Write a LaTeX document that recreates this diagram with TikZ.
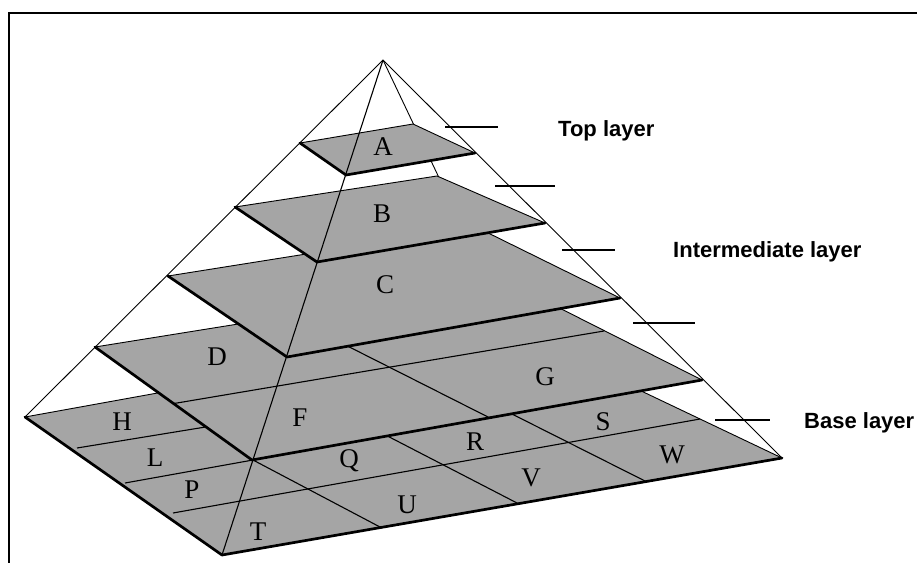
\documentclass[tikz,border=0pt]{standalone}
\usepackage{fontspec}
\setmainfont{Liberation Serif}
\newfontfamily\labelfont{Liberation Sans}
\definecolor{platefill}{RGB}{165,165,165}
\tikzset{
  plate/.style={fill=platefill, draw=black, line width=0.9pt, line join=round},
  frontedge/.style={draw=black, line width=2.7pt, line cap=round, line join=round},
  thinline/.style={draw=black, line width=0.9pt},
  gridline/.style={draw=black, line width=1.1pt},
  cell/.style={font=\fontsize{27}{27}\selectfont, inner sep=0pt, text=black},
  layername/.style={font=\labelfont\bfseries\fontsize{22}{22}\selectfont, anchor=base west, inner sep=0pt},
  tickline/.style={draw=black, line width=1.4pt},
  framebox/.style={draw=black, line width=2pt}
}
\begin{document}
\begin{tikzpicture}[x=1pt,y=-1pt]
\useasboundingbox (0,0) rectangle (917,562);
% frame
\coordinate (fBL) at (9,566);
\coordinate (fTL) at (9,13);
\coordinate (fTR) at (921,13);
\draw[framebox] (fBL) -- (fTL) -- (fTR);

% pyramid corners
\coordinate (apex) at (383,60);
\coordinate (L) at (25,417);
\coordinate (F) at (222,555);
\coordinate (R) at (782,458);
\coordinate (K) at (511,329);
\draw[thinline] (apex) -- (L);
\draw[thinline] (apex) -- (R);
\draw[thinline] (apex) -- (K);

% ---------- base plate (4x4) ----------
\path[plate] (L) -- (F) -- (R) -- (K) -- cycle;
\coordinate (r1s) at (77,448);  \coordinate (r1e) at (230,423);
\coordinate (r2s) at (125,483); \coordinate (r2e) at (253,460);
\coordinate (r3s) at (173,513); \coordinate (r3e) at (700,419);
\coordinate (c1s) at (380,527); \coordinate (c1e) at (253,460);
\coordinate (c2s) at (517,503); \coordinate (c2e) at (370,427);
\coordinate (c3s) at (647,482); \coordinate (c3e) at (500,408);
\draw[gridline] (r1s) -- (r1e);
\draw[gridline] (r2s) -- (r2e);
\draw[gridline] (r3s) -- (r3e);
\draw[gridline] (c1s) -- (c1e);
\draw[gridline] (c2s) -- (c2e);
\draw[gridline] (c3s) -- (c3e);
\draw[frontedge] (L) -- (F) -- (R);

% ---------- DEFG plate (2x2) ----------
\coordinate (D1) at (95,347);
\coordinate (D2) at (252,460);
\coordinate (D3) at (702,380);
\coordinate (D4) at (506,281);
\path[plate] (D1) -- (D2) -- (D3) -- (D4) -- cycle;
\coordinate (dms) at (174,403.5); \coordinate (dme) at (604,331);
\coordinate (dcs) at (490,418);   \coordinate (dce) at (288,316);
\draw[gridline] (dms) -- (dme);
\draw[gridline] (dcs) -- (dce);
\draw[frontedge] (D1) -- (D2) -- (D3);

% ---------- C plate ----------
\coordinate (C1) at (168,276);
\coordinate (C2) at (287,357);
\coordinate (C3) at (620,298);
\coordinate (C4) at (476,227);
\path[plate] (C1) -- (C2) -- (C3) -- (C4) -- cycle;
\draw[frontedge] (C1) -- (C2) -- (C3);

% ---------- B plate ----------
\coordinate (B1) at (235,207);
\coordinate (B2) at (317,262);
\coordinate (B3) at (545,223);
\coordinate (B4) at (437,176);
\path[plate] (B1) -- (B2) -- (B3) -- (B4) -- cycle;
\draw[frontedge] (B1) -- (B2) -- (B3);

% ---------- A plate ----------
\coordinate (A1) at (300,143);
\coordinate (A2) at (346,175);
\coordinate (A3) at (475,153);
\coordinate (A4) at (413,124);
\path[plate] (A1) -- (A2) -- (A3) -- (A4) -- cycle;
\draw[frontedge] (A1) -- (A2) -- (A3);

% front edge of the pyramid
\draw[thinline, line width=1.1pt] (apex) -- (F);

% cell letters
\node[cell] (lA) at (383,147) {A};
\node[cell] (lB) at (382,214) {B};
\node[cell] (lC) at (385,285) {C};
\node[cell] (lD) at (217,357) {D};
\node[cell] (lF) at (300,418) {F};
\node[cell] (lG) at (545,377) {G};
\node[cell] (lH) at (122,422) {H};
\node[cell] (lL) at (155,458) {L};
\node[cell] (lP) at (192,490) {P};
\node[cell] (lT) at (258,532) {T};
\node[cell] (lQ) at (349,461) {Q};
\node[cell] (lR) at (475,442) {R};
\node[cell] (lS) at (603,422) {S};
\node[cell] (lU) at (407,505) {U};
\node[cell] (lV) at (531,478) {V};
\node[cell] (lW) at (672,455) {W};

% ticks
\coordinate (t1a) at (445,127); \coordinate (t1b) at (498,127);
\coordinate (t2a) at (495,186); \coordinate (t2b) at (555,186);
\coordinate (t3a) at (562,250); \coordinate (t3b) at (615,250);
\coordinate (t4a) at (633,323); \coordinate (t4b) at (695,323);
\coordinate (t5a) at (715,420); \coordinate (t5b) at (770,420);
\draw[tickline] (t1a) -- (t1b);
\draw[tickline] (t2a) -- (t2b);
\draw[tickline] (t3a) -- (t3b);
\draw[tickline] (t4a) -- (t4b);
\draw[tickline] (t5a) -- (t5b);

% layer names
\node[layername] (ntop) at (558,136) {Top layer};
\node[layername] (nint) at (673,257) {Intermediate layer};
\node[layername] (nbase) at (804,428) {Base layer};
\end{tikzpicture}
\end{document}
